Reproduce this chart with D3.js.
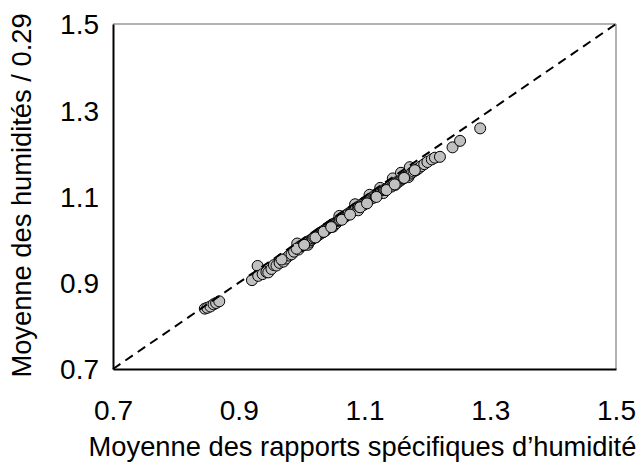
<!DOCTYPE html>
<html>
<head>
<meta charset="utf-8">
<script src="https://cdn.jsdelivr.net/npm/d3@7"></script>
<style>
  html, body { margin: 0; padding: 0; background: #fff; }
  svg { display: block; font-family: "Liberation Sans", Arial, sans-serif; }
</style>
</head>
<body>
<svg id="chart" width="642" height="465"></svg>
<script>
// Mean of specific humidity ratios (x) vs mean of humidities / 0.29 (y)
const meanRatio = [
  0.846, 0.850, 0.855, 0.860, 0.864, 0.869,
  0.921, 0.930, 0.931, 0.938, 0.944, 0.947, 0.952, 0.956, 0.960, 0.965,
  0.971, 0.975, 0.980, 0.984, 0.988, 0.993, 0.995, 0.997, 1.000, 1.003,
  1.006, 1.008, 1.010, 1.011, 1.013, 1.016, 1.018, 1.020, 1.023, 1.025,
  1.027, 1.030, 1.032, 1.034, 1.036, 1.038, 1.040, 1.042, 1.044, 1.046,
  1.048, 1.050, 1.050, 1.052, 1.055, 1.057, 1.059, 1.060, 1.061, 1.063,
  1.066, 1.069, 1.071, 1.073, 1.075, 1.078, 1.080, 1.082, 1.084, 1.085,
  1.086, 1.089, 1.090, 1.091, 1.094, 1.096, 1.098, 1.100, 1.102, 1.105,
  1.107, 1.108, 1.109, 1.111, 1.114, 1.116, 1.118, 1.121, 1.123, 1.125,
  1.126, 1.128, 1.130, 1.131, 1.133, 1.136, 1.138, 1.141, 1.143, 1.145,
  1.146, 1.149, 1.151, 1.154, 1.157, 1.158, 1.160, 1.162, 1.165, 1.168,
  1.170, 1.171, 1.172, 1.175, 1.178, 1.182, 1.186, 1.190, 1.195, 1.200,
  1.207, 1.212, 1.220, 1.240, 1.252, 1.284,
  0.968, 0.992, 1.004, 1.022, 1.035, 1.047, 1.064, 1.077, 1.093, 1.104,
  1.119, 1.135, 1.148, 1.163, 1.180
];
const meanHumidity = [
  0.840, 0.842, 0.845, 0.850, 0.853, 0.857,
  0.906, 0.939, 0.916, 0.920, 0.925, 0.924, 0.932, 0.941, 0.940, 0.946,
  0.949, 0.956, 0.963, 0.966, 0.972, 0.991, 0.977, 0.984, 0.985, 0.987,
  0.990, 0.993, 0.988, 0.993, 0.998, 1.000, 1.003, 1.005, 1.006, 1.010,
  1.011, 1.014, 1.018, 1.017, 1.022, 1.021, 1.026, 1.027, 1.030, 1.031,
  1.034, 1.036, 1.030, 1.037, 1.038, 1.043, 1.045, 1.055, 1.046, 1.049,
  1.050, 1.053, 1.057, 1.058, 1.061, 1.062, 1.066, 1.067, 1.069, 1.082,
  1.072, 1.073, 1.068, 1.077, 1.078, 1.082, 1.080, 1.086, 1.085, 1.090,
  1.091, 1.104, 1.095, 1.096, 1.097, 1.102, 1.101, 1.106, 1.107, 1.120,
  1.111, 1.110, 1.108, 1.115, 1.115, 1.119, 1.121, 1.124, 1.123, 1.142,
  1.129, 1.127, 1.133, 1.134, 1.137, 1.155, 1.141, 1.142, 1.146, 1.148,
  1.145, 1.150, 1.168, 1.155, 1.158, 1.161, 1.165, 1.170, 1.175, 1.180,
  1.186, 1.190, 1.192, 1.214, 1.229, 1.258,
  0.954, 0.979, 0.988, 1.005, 1.018, 1.029, 1.046, 1.058, 1.075, 1.084,
  1.099, 1.115, 1.128, 1.143, 1.161
];
const tickValues = [0.7, 0.9, 1.1, 1.3, 1.5];
const xTitle = "Moyenne des rapports spécifiques d\u2019humidité";
const yTitle = "Moyenne des humidités / 0.29";

const svg = d3.select("#chart");
const plotLeft = 113, plotRight = 616, plotTop = 24, plotBottom = 369;

const x = d3.scaleLinear().domain([0.7, 1.5]).range([plotLeft, plotRight]);
const y = d3.scaleLinear().domain([0.7, 1.5]).range([plotBottom, plotTop]);

// frame: light top/right, dark left/bottom
svg.append("line").attr("x1", plotLeft).attr("x2", plotRight).attr("y1", plotTop).attr("y2", plotTop)
  .attr("stroke", "#999").attr("stroke-width", 1.5);
svg.append("line").attr("x1", plotRight).attr("x2", plotRight).attr("y1", plotTop).attr("y2", plotBottom)
  .attr("stroke", "#999").attr("stroke-width", 1.5);

// axes without tick marks
const xAxis = svg.append("g").attr("transform", `translate(0,${plotBottom})`)
  .call(d3.axisBottom(x).tickValues(tickValues).tickSize(0).tickPadding(0).tickFormat(d3.format(".1f")));
xAxis.select(".domain").attr("stroke", "#000").attr("stroke-width", 2);
xAxis.selectAll("text").attr("font-size", 28).attr("fill", "#000")
  .attr("dy", null).attr("y", 51);

const yAxis = svg.append("g").attr("transform", `translate(${plotLeft},0)`)
  .call(d3.axisLeft(y).tickValues(tickValues).tickSize(0).tickPadding(0).tickFormat(d3.format(".1f")));
yAxis.select(".domain").attr("stroke", "#000").attr("stroke-width", 2);
yAxis.selectAll("text").attr("font-size", 28).attr("fill", "#000")
  .attr("x", -14).attr("dy", "0.35em");
svg.selectAll(".tick line").remove();

const data = meanRatio.map((v, i) => ({ x: v, y: meanHumidity[i] }));

// observations
svg.append("g").selectAll("circle").data(data).join("circle")
  .attr("cx", d => x(d.x)).attr("cy", d => y(d.y)).attr("r", 5.5)
  .attr("fill", "#c0c0c0").attr("stroke", "#000").attr("stroke-width", 1);

// 1:1 reference line
svg.append("line")
  .attr("x1", x(0.7)).attr("y1", y(0.7)).attr("x2", x(1.5)).attr("y2", y(1.5))
  .attr("stroke", "#000").attr("stroke-width", 2).attr("stroke-dasharray", "9,6");

// axis titles
svg.append("text").attr("x", (plotLeft + plotRight) / 2 - 2).attr("y", 456)
  .attr("text-anchor", "middle").attr("font-size", 27.3).attr("fill", "#000").text(xTitle);
svg.append("text").attr("transform", `translate(31,${(plotTop + plotBottom) / 2 - 1}) rotate(-90)`)
  .attr("text-anchor", "middle").attr("font-size", 27.3).attr("fill", "#000").text(yTitle);
</script>
</body>
</html>
